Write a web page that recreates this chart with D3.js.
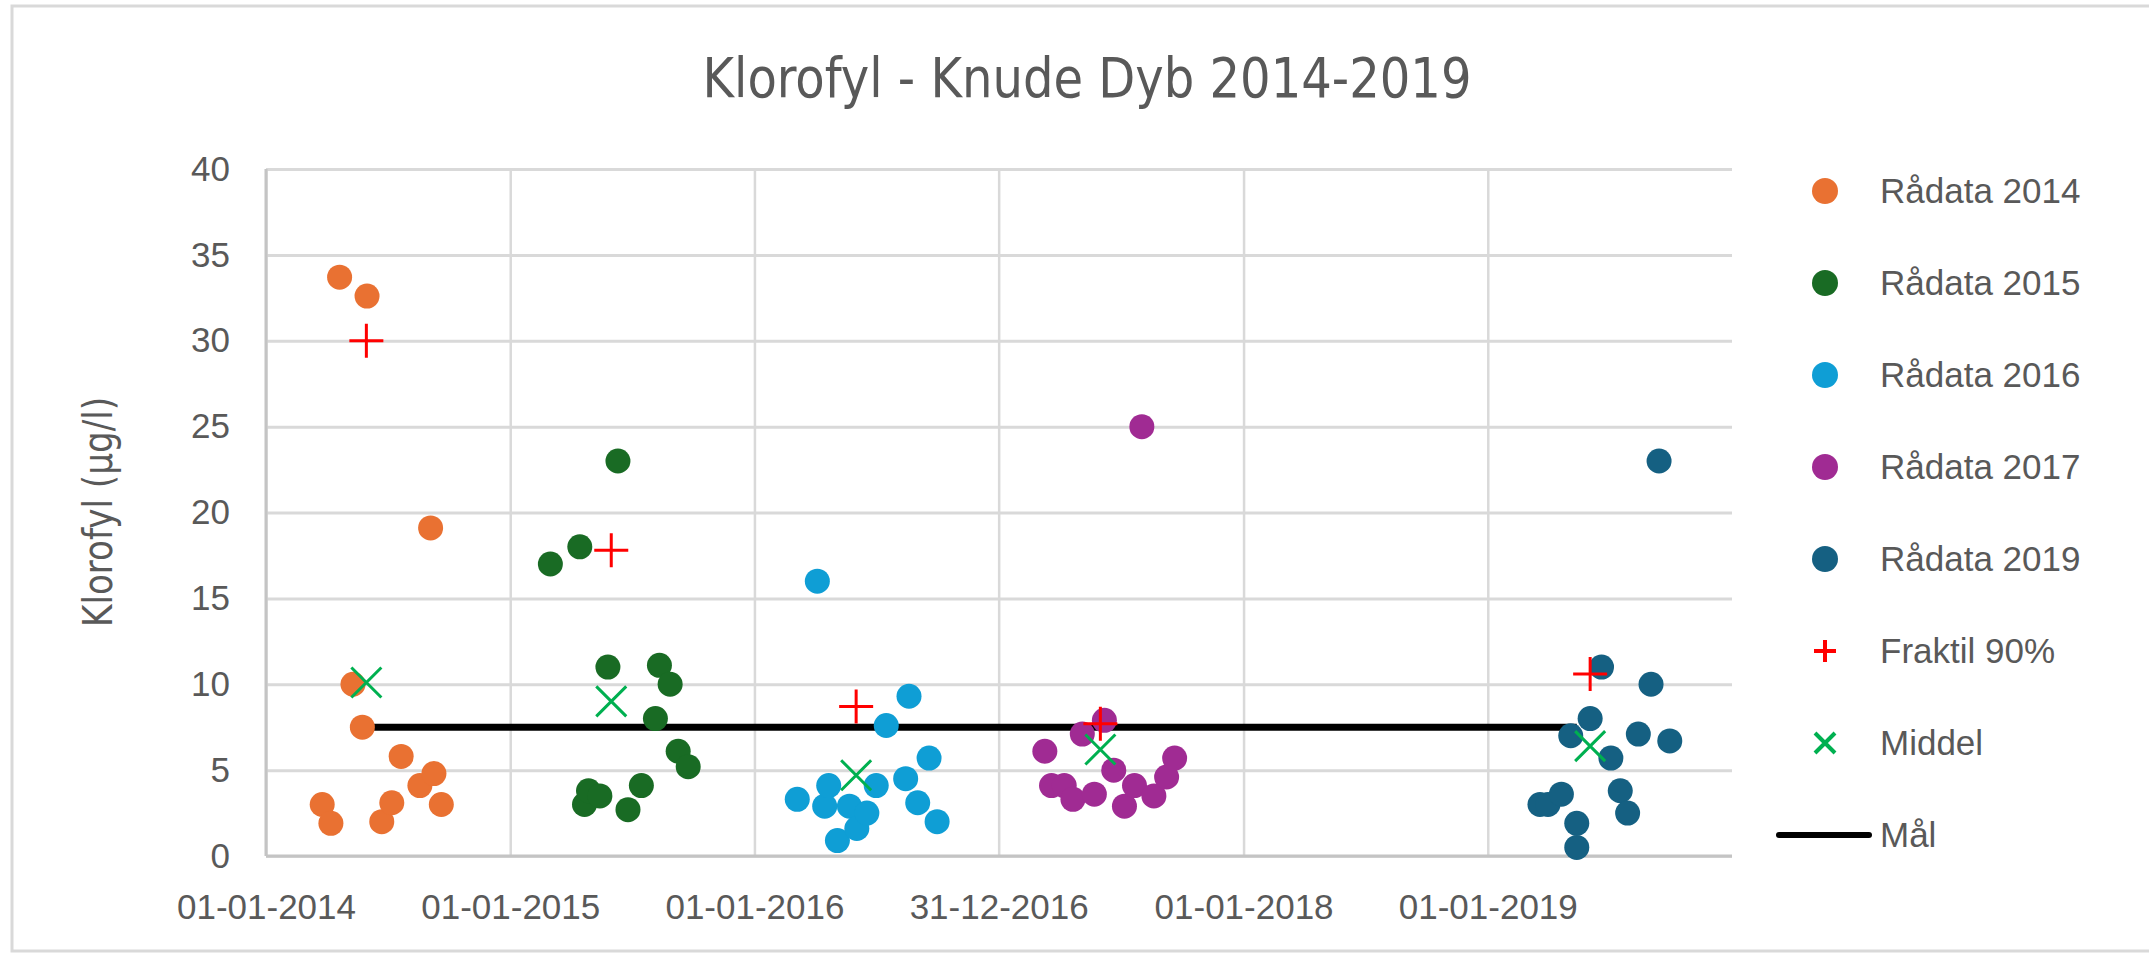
<!DOCTYPE html>
<html>
<head>
<meta charset="utf-8">
<script src="https://cdn.jsdelivr.net/npm/d3@7"></script>
<style>
  body { margin: 0; background: #fff; }
  text { font-family: "Liberation Sans", Arial, sans-serif; fill: #595959; }
</style>
</head>
<body>
<div id="chart"></div>
<script>
// Rådata per year: [date, klorofyl µg/l]
var raw2014 = [["2014-03-26",3.0],["2014-04-08",1.9],["2014-04-21",33.7],["2014-05-11",10.0],["2014-05-25",7.5],
               ["2014-06-01",32.6],["2014-06-23",2.0],["2014-07-08",3.1],["2014-07-22",5.8],["2014-08-19",4.1],
               ["2014-09-04",19.1],["2014-09-09",4.8],["2014-09-20",3.0]];
var raw2015 = [["2015-03-02",17.0],["2015-04-15",18.0],["2015-04-22",3.0],["2015-04-28",3.8],["2015-05-15",3.5],
               ["2015-05-27",11.0],["2015-06-11",23.0],["2015-06-26",2.7],["2015-07-16",4.1],["2015-08-06",8.0],
               ["2015-08-12",11.1],["2015-08-28",10.0],["2015-09-09",6.1],["2015-09-24",5.2]];
var raw2016 = [["2016-03-05",3.3],["2016-04-04",16.0],["2016-04-15",2.9],["2016-04-21",4.1],["2016-05-04",0.9],
               ["2016-05-22",2.9],["2016-06-02",1.6],["2016-06-17",2.5],["2016-07-01",4.1],["2016-07-16",7.6],
               ["2016-08-14",4.5],["2016-08-19",9.3],["2016-09-01",3.1],["2016-09-18",5.7],["2016-09-30",2.0]];
var raw2017 = [["2017-03-10",6.1],["2017-03-20",4.1],["2017-04-08",4.1],["2017-04-21",3.3],["2017-05-05",7.1],
               ["2017-05-23",3.6],["2017-06-07",7.9],["2017-06-21",5.0],["2017-07-07",2.9],["2017-07-22",4.1],
               ["2017-08-02",25.0],["2017-08-20",3.5],["2017-09-08",4.6],["2017-09-20",5.7]];
var raw2019 = [["2019-03-20",3.0],["2019-04-01",3.0],["2019-04-21",3.6],["2019-05-05",7.0],["2019-05-14",1.9],
               ["2019-05-14",0.5],["2019-06-03",8.0],["2019-06-20",11.0],["2019-07-04",5.7],["2019-07-18",3.8],
               ["2019-07-29",2.5],["2019-08-14",7.1],["2019-09-02",10.0],["2019-09-14",23.0],["2019-09-30",6.7]];

var fraktil = [["2014-05-31",30.0],["2015-06-01",17.8],["2016-06-01",8.7],["2017-06-01",7.7],["2019-06-03",10.6]];
var middel  = [["2014-05-31",10.1],["2015-06-01",9.0],["2016-06-01",4.7],["2017-06-01",6.2],["2019-06-03",6.4]];
var maal    = [["2014-05-25",7.5],["2019-05-14",7.5]];

var seriesNames  = ["Rådata 2014","Rådata 2015","Rådata 2016","Rådata 2017","Rådata 2019"];
var seriesData   = [raw2014, raw2015, raw2016, raw2017, raw2019];
var seriesColors = ["#E97132","#196B24","#0F9ED5","#A02B93","#156082"];
var legendOther  = ["Fraktil 90%","Middel","Mål"];

var xTicks = ["2014-01-01","2015-01-01","2016-01-01","2016-12-31","2018-01-01","2019-01-01"];
var yTicks = [0,5,10,15,20,25,30,35,40];

// Dimensions
var width = 2149, height = 953;
var plotLeft = 266, plotRight = 1732, plotTop = 169, plotBottom = 856;

var parse = d3.timeParse("%Y-%m-%d");

var svg = d3.select("#chart").append("svg")
    .attr("width", width)
    .attr("height", height);

// chart border
svg.append("rect")
    .attr("x", 12).attr("y", 6)
    .attr("width", width + 20).attr("height", 945)
    .attr("fill", "#fff")
    .attr("stroke", "#d9d9d9")
    .attr("stroke-width", 3);

var x = d3.scaleTime()
    .domain([parse("2014-01-01"), parse("2020-01-01")])
    .range([plotLeft, plotRight]);

var y = d3.scaleLinear()
    .domain([0, 40])
    .range([plotBottom, plotTop]);

// Y axis + horizontal grid
var yAxis = svg.append("g")
    .attr("transform", "translate(" + plotLeft + ",0)")
    .call(d3.axisLeft(y).tickValues(yTicks).tickSize(-(plotRight - plotLeft)).tickPadding(36));
yAxis.select(".domain").remove();
yAxis.selectAll("line").attr("stroke", "#d9d9d9").attr("stroke-width", 3);
yAxis.selectAll("text").style("font-size", "35px").attr("fill", "#595959");

// X axis + vertical grid
var xAxis = svg.append("g")
    .attr("transform", "translate(0," + plotBottom + ")")
    .call(d3.axisBottom(x)
        .tickValues(xTicks.map(parse))
        .tickFormat(d3.timeFormat("%d-%m-%Y"))
        .tickSize(-(plotBottom - plotTop))
        .tickPadding(38));
xAxis.select(".domain").remove();
xAxis.selectAll("line").attr("stroke", "#d9d9d9").attr("stroke-width", 2.5);
xAxis.selectAll("text").style("font-size", "35px").attr("fill", "#595959");

// axis lines
svg.append("line")
    .attr("x1", plotLeft).attr("x2", plotLeft).attr("y1", plotTop).attr("y2", plotBottom)
    .attr("stroke", "#c4c4c4").attr("stroke-width", 3);
svg.append("line")
    .attr("x1", plotLeft).attr("x2", plotRight).attr("y1", plotBottom).attr("y2", plotBottom)
    .attr("stroke", "#c4c4c4").attr("stroke-width", 3);

// Title
svg.append("text")
    .attr("x", 1087).attr("y", 97)
    .attr("text-anchor", "middle")
    .attr("textLength", 769)
    .attr("lengthAdjust", "spacingAndGlyphs")
    .style("font-family", "'Liberation Sans Narrow', 'DejaVu Sans Condensed', sans-serif")
    .style("font-size", "55px")
    .text("Klorofyl - Knude Dyb 2014-2019");

// Y axis title
svg.append("text")
    .attr("transform", "translate(112,512) rotate(-90)")
    .attr("text-anchor", "middle")
    .attr("textLength", 230)
    .attr("lengthAdjust", "spacingAndGlyphs")
    .style("font-family", "'Liberation Sans Narrow', 'DejaVu Sans Condensed', sans-serif")
    .style("font-size", "40px")
    .text("Klorofyl (µg/l)");

// marker shapes
function plusPath(s) { return "M" + (-s) + ",0H" + s + "M0," + (-s) + "V" + s; }
function timesPath(s) { return "M" + (-s) + "," + (-s) + "L" + s + "," + s + "M" + (-s) + "," + s + "L" + s + "," + (-s); }

// Mål line
var line = d3.line()
    .x(function(d) { return x(parse(d[0])); })
    .y(function(d) { return y(d[1]); });

svg.append("path")
    .datum(maal)
    .attr("d", line)
    .attr("fill", "none")
    .attr("stroke", "#000")
    .attr("stroke-width", 7);

// Rådata points
seriesData.forEach(function(data, i) {
    svg.append("g").selectAll("circle")
        .data(data)
        .enter().append("circle")
        .attr("cx", function(d) { return x(parse(d[0])); })
        .attr("cy", function(d) { return y(d[1]); })
        .attr("r", 12.5)
        .attr("fill", seriesColors[i]);
});

// Fraktil 90%
svg.append("g").selectAll("path")
    .data(fraktil)
    .enter().append("path")
    .attr("transform", function(d) { return "translate(" + x(parse(d[0])) + "," + y(d[1]) + ")"; })
    .attr("d", plusPath(17))
    .attr("stroke", "#FF0000").attr("stroke-width", 3).attr("fill", "none");

// Middel
svg.append("g").selectAll("path")
    .data(middel)
    .enter().append("path")
    .attr("transform", function(d) { return "translate(" + x(parse(d[0])) + "," + y(d[1]) + ")"; })
    .attr("d", timesPath(15))
    .attr("stroke", "#00B050").attr("stroke-width", 3).attr("fill", "none");

// Legend
var legendX = 1825, legendY = 191, legendStep = 92;
var legend = svg.append("g");

seriesNames.forEach(function(name, i) {
    var g = legend.append("g").attr("transform", "translate(" + legendX + "," + (legendY + i * legendStep) + ")");
    g.append("circle").attr("r", 13).attr("fill", seriesColors[i]);
    g.append("text").attr("x", 55).attr("dy", "0.35em").style("font-size", "35px").text(name);
});

legendOther.forEach(function(name, j) {
    var i = seriesNames.length + j;
    var g = legend.append("g").attr("transform", "translate(" + legendX + "," + (legendY + i * legendStep) + ")");
    if (j === 0) {
        g.append("path").attr("d", plusPath(11)).attr("stroke", "#FF0000").attr("stroke-width", 4);
    } else if (j === 1) {
        g.append("path").attr("d", timesPath(10)).attr("stroke", "#00B050").attr("stroke-width", 4);
    } else {
        g.append("line").attr("x1", -46).attr("x2", 44)
            .attr("stroke", "#000").attr("stroke-width", 6).attr("stroke-linecap", "round");
    }
    g.append("text").attr("x", 55).attr("dy", "0.35em").style("font-size", "35px").text(name);
});
</script>
</body>
</html>
